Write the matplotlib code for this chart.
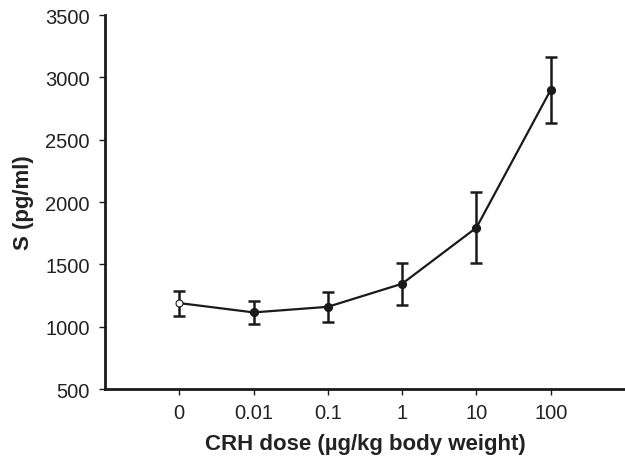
import numpy as np
import matplotlib.pyplot as plt

plt.rcParams['font.family'] = ['Liberation Sans', 'DejaVu Sans']

doses = ['0', '0.01', '0.1', '1', '10', '100']
s_mean = [1190, 1115, 1160, 1345, 1795, 2900]
s_err = [100, 95, 120, 170, 285, 265]

x = np.arange(len(doses))

fig = plt.figure(figsize=(6.25, 4.6), dpi=100)
ax = fig.add_axes([0.168, 0.152, 0.832, 0.813])

ax.errorbar(x, s_mean, yerr=s_err, color='#1a1a1a', lw=1.6, elinewidth=1.8,
            capsize=4.5, capthick=1.8, zorder=2)
ax.plot(x[1:], s_mean[1:], 'o', color='#1a1a1a', ms=5.6, zorder=3)
ax.plot(x[:1], s_mean[:1], 'o', mfc='white', mec='#1a1a1a', mew=0.8, ms=5, zorder=3)

ax.set_xlim(-1, 6)
ax.set_ylim(500, 3500)
ax.set_yticks(np.arange(500, 3501, 500))
ax.set_xticks(x)
ax.set_xticklabels(doses)

for s in ['top', 'right']:
    ax.spines[s].set_visible(False)
for s in ['left', 'bottom']:
    ax.spines[s].set_linewidth(2)
    ax.spines[s].set_color('#1a1a1a')

ax.tick_params(direction='out', length=4, width=1, colors='#1a1a1a',
               labelsize=14.5, labelcolor='#222222')
ax.tick_params(axis='x', pad=6)
ax.tick_params(axis='y', pad=7)

ax.set_xlabel('CRH dose (\u00b5g/kg body weight)', fontsize=16,
              fontweight='bold', color='#222222', labelpad=8)
ax.set_ylabel('S (pg/ml)', fontsize=16, fontweight='bold',
              color='#222222', labelpad=8)

fig.savefig('out.png', dpi=100)
